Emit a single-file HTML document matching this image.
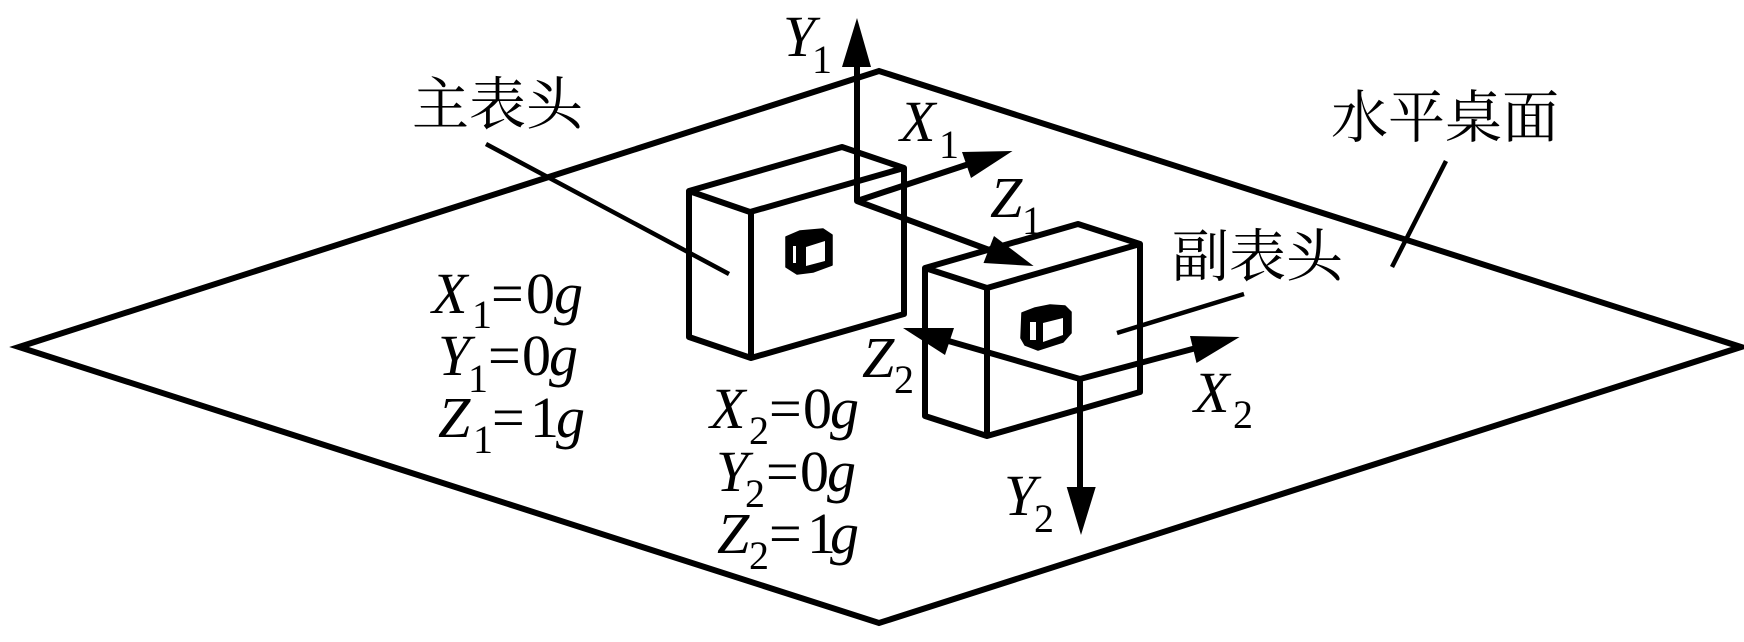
<!DOCTYPE html>
<html><head><meta charset="utf-8"><style>
html,body{margin:0;padding:0;background:#fff;width:1744px;height:642px;overflow:hidden}
svg{display:block}
text{fill:#000;font-family:"Liberation Serif",serif}
.b{font-size:58px}.i{font-size:58px;font-style:italic}.s{font-size:40px}
.c{font-size:56px;font-family:"Liberation Serif","Noto Serif CJK SC",serif}
.k{fill:none;stroke:#000;stroke-width:6;stroke-linejoin:round;stroke-linecap:round}
.t{fill:none;stroke:#000;stroke-width:4.5}
</style></head><body>
<svg width="1744" height="642" viewBox="0 0 1744 642" xmlns="http://www.w3.org/2000/svg">
<rect width="1744" height="642" fill="#fff"/>
<path class="k" d="M19 347L879 71L1741 347L879 623Z" style="stroke-linejoin:miter"/>
<path class="t" d="M486 144L729 274M1117 333L1244 294M1446 161L1392 267"/>
<path class="k" d="M689 191L842 147L904 168L750 212ZM689 191V337L751 358L904 314V168M751 212V358"/>
<path class="k" d="M925 268L1078 224L1140 244L987 288ZM925 268V416L987 436L1140 392V244M987 288V436"/>
<path fill="#000" stroke="#000" stroke-width="1.5" stroke-linejoin="round" d="M786 237L800 231L823 229L832 235V265L813 272L797 274L786 267Z"/>
<path fill="#fff" d="M806 247L825 241V261L806 266ZM793 246H796V263H793Z"/>
<path fill="#000" stroke="#000" stroke-width="1.5" stroke-linejoin="round" d="M1022 313L1035 308L1050 305L1065 306L1071 312V333L1063 342L1038 350L1025 345L1021 338Z"/>
<path fill="#fff" d="M1043 323L1063 318V335L1043 342ZM1030 322H1036V340H1030Z"/>
<path class="k" d="M857 60V201L972 163M857 201L1000 254" style="stroke-linecap:butt"/>
<path d="M857 18L871 67H842ZM1012.5 151L962 152L971 178ZM1033.6 266L994 236L983.5 263Z"/>
<path class="k" d="M945 340L1080 379L1200 347M1080 379V495" style="stroke-linecap:butt"/>
<path d="M1081 535L1066.7 487H1095.7ZM1239.6 337L1190 336L1196.5 363ZM903 328L954 328L945 355Z"/>

<text class="i" x="432" y="313">X</text><text class="s" x="472" y="328">1</text><text class="b" x="491" y="313">=</text><text class="b" x="526" y="313">0</text><text class="i" x="554" y="313">g</text>
<text class="i" x="438" y="375">Y</text><text class="s" x="468" y="392">1</text><text class="b" x="488" y="375">=</text><text class="b" x="522" y="375">0</text><text class="i" x="549" y="375">g</text>
<text class="i" x="438" y="437">Z</text><text class="s" x="473" y="453">1</text><text class="b" x="492" y="437">=</text><text class="b" x="530" y="437">1</text><text class="i" x="556" y="437">g</text>

<text class="i" x="710" y="428">X</text><text class="s" x="749" y="444">2</text><text class="b" x="769" y="428">=</text><text class="b" x="803" y="428">0</text><text class="i" x="830" y="428">g</text>
<text class="i" x="716" y="491">Y</text><text class="s" x="745" y="507">2</text><text class="b" x="766" y="491">=</text><text class="b" x="800" y="491">0</text><text class="i" x="827" y="491">g</text>
<text class="i" x="717" y="553">Z</text><text class="s" x="749" y="569">2</text><text class="b" x="769" y="553">=</text><text class="b" x="807" y="553">1</text><text class="i" x="830" y="553">g</text>

<text class="i" x="783" y="56">Y</text><text class="s" x="812" y="73">1</text>
<text class="i" x="900" y="141">X</text><text class="s" x="939" y="158">1</text>
<text class="i" x="990" y="217">Z</text><text class="s" x="1022" y="234">1</text>
<text class="i" x="862" y="377">Z</text><text class="s" x="894" y="393">2</text>
<text class="i" x="1194" y="412">X</text><text class="s" x="1233" y="428">2</text>
<text class="i" x="1004" y="515">Y</text><text class="s" x="1034" y="532">2</text>

<text class="c" x="412" y="124" style="font-size:57px">主表头</text>
<text class="c" x="1331" y="137" style="font-size:57px">水平桌面</text>
<text class="c" x="1172" y="276" style="font-size:57px">副表头</text>
</svg>
</body></html>
